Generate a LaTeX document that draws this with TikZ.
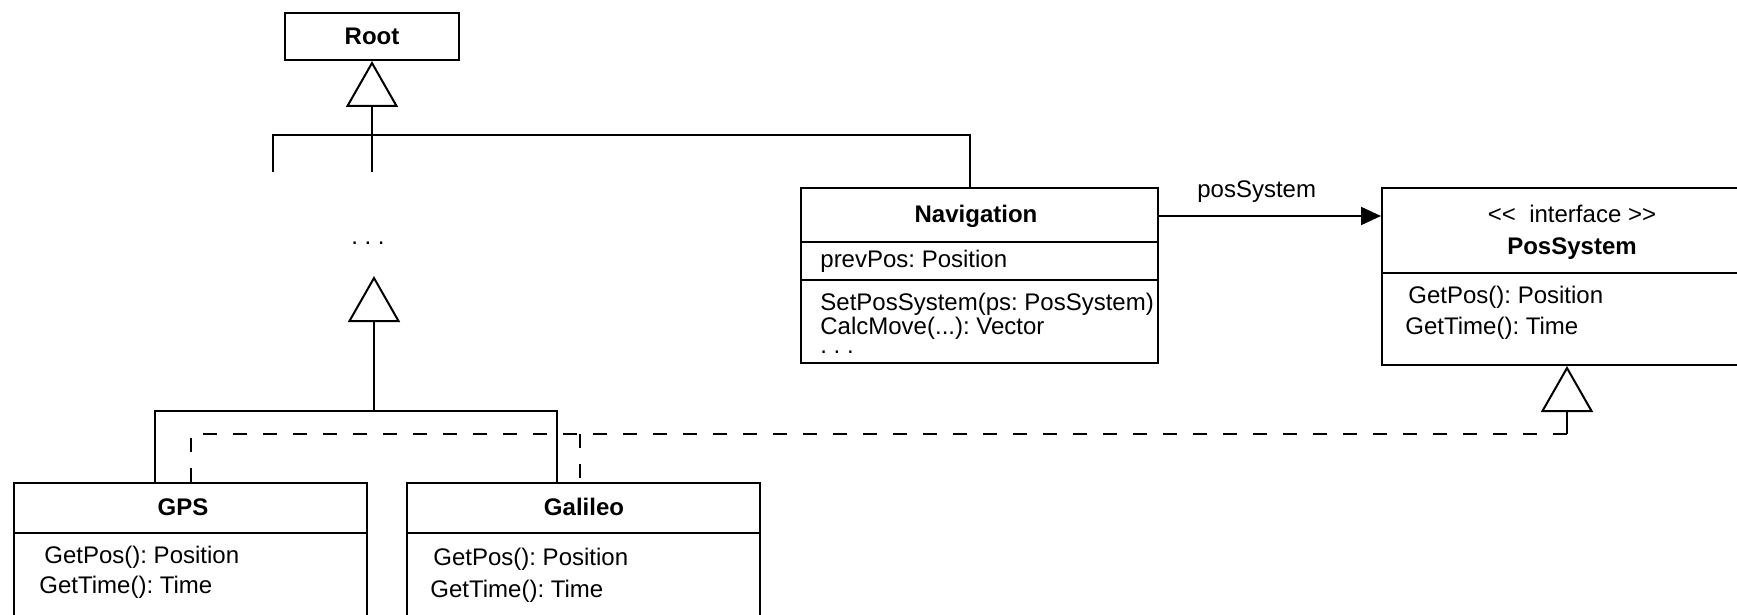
\documentclass[tikz,border=0pt]{standalone}
\usepackage{fontspec}
\setmainfont{Liberation Sans}
\frenchspacing
\usetikzlibrary{arrows.meta,positioning}

\tikzset{
  classbox/.style={draw, line width=1pt, inner sep=0pt},
  title/.style={font=\fontsize{12}{14}\selectfont\bfseries, inner sep=0pt, anchor=base},
  member/.style={font=\fontsize{12}{14}\selectfont, inner sep=0pt, anchor=base west},
  link/.style={line width=1pt},
  gen/.style={line width=1pt, -{Triangle[open, length=23pt, width=26pt]}},
  realline/.style={line width=1pt, dash pattern=on 7pt off 8pt},
  assoc/.style={line width=1pt, -{Triangle[length=10pt, width=9pt]}},
}

\begin{document}
\begin{tikzpicture}[x=0.5pt, y=-0.5pt]
    \useasboundingbox (0,0) rectangle (1737,615);
    \clip (0,0) rectangle (1737,615);

    % class boxes
    \node[classbox, font=\fontsize{12}{14}\selectfont\bfseries, minimum width=87pt, minimum height=23.5pt] (root) at (372,36.5) {Root};
    \node[classbox, minimum width=178.5pt, minimum height=87.5pt] (nav) at (979.5,275.5) {};
    \node[classbox, minimum width=185pt, minimum height=88.5pt] (pos) at (1567,276.5) {};
    \node[classbox, minimum width=176.5pt, minimum height=83.5pt] (gps) at (190.5,566.5) {};
    \node[classbox, minimum width=176.5pt, minimum height=83.5pt] (gal) at (583.5,566.5) {};

    % compartments
    \draw[link] (nav.west |- 0,242) -- (nav.east |- 0,242);
    \draw[link] (nav.west |- 0,280) -- (nav.east |- 0,280);
    \draw[link] (pos.west |- 0,273) -- (pos.east |- 0,273);
    \draw[link] (gps.west |- 0,533) -- (gps.east |- 0,533);
    \draw[link] (gal.west |- 0,533) -- (gal.east |- 0,533);

    % Navigation
    \node[title] (navname) at (976,222) {Navigation};
    \node[member] (navattr) at (820,268) {prevPos: Position};
    \node[member] (navop1) at (820,310) {SetPosSystem(ps: PosSystem)};
    \node[member] (navop2) at (820,335) {CalcMove(...): Vector};
    \node[member] (navop3) at (820,353) {. . .};

    % PosSystem
    \node[member, anchor=base] (posstereo) at (1572,223) {<\kern0pt<\ \ interface >\kern0pt>};
    \node[title] (posname) at (1572,255) {PosSystem};
    \node[member] (posop1) at (1408,303) {GetPos(): Position};
    \node[member] (posop2) at (1405,334) {GetTime(): Time};

    % GPS and Galileo
    \node[title] (gpsname) at (183,515) {GPS};
    \node[member] (gpsop1) at (44,563) {GetPos(): Position};
    \node[member] (gpsop2) at (39,593) {GetTime(): Time};
    \node[title] (galname) at (584,515) {Galileo};
    \node[member] (galop1) at (433,565) {GetPos(): Position};
    \node[member] (galop2) at (430,597) {GetTime(): Time};

    % upper hierarchy
    \coordinate (stubL) at (273,172);
    \coordinate (stubM) at (372,172);
    \coordinate (bar) at (372,135);
    \draw[gen] (stubM) -- (root.south);
    \draw[link] (stubL) |- (bar) -| ([xshift=-4.75pt]nav.north);

    \node[member, anchor=base] (dots) at (368,244) {. . .};

    % lower hierarchy
    \coordinate (lowbar) at (374,411);
    \coordinate (lowtip) at (374,276);
    \draw[gen] (lowbar) -- (lowtip);
    \draw[link] ([xshift=-17.75pt]gps.north) |- (lowbar) -| ([xshift=-13.25pt]gal.north);

    % realization of the interface
    \coordinate (real) at (1567,434);
    \coordinate (galreal) at (580,434);
    \draw[realline] (gps.north) |- (real);
    \draw[realline] (galreal) -- (galreal |- gal.north);
    \draw[gen] (real) -- (pos.south);

    % association
    \draw[assoc] ([yshift=29.75pt]nav.east) -- ([yshift=30.25pt]pos.west)
        node[above=3pt, pos=0.44, font=\fontsize{12}{14}\selectfont] (assocname) {posSystem};
\end{tikzpicture}
\end{document}
